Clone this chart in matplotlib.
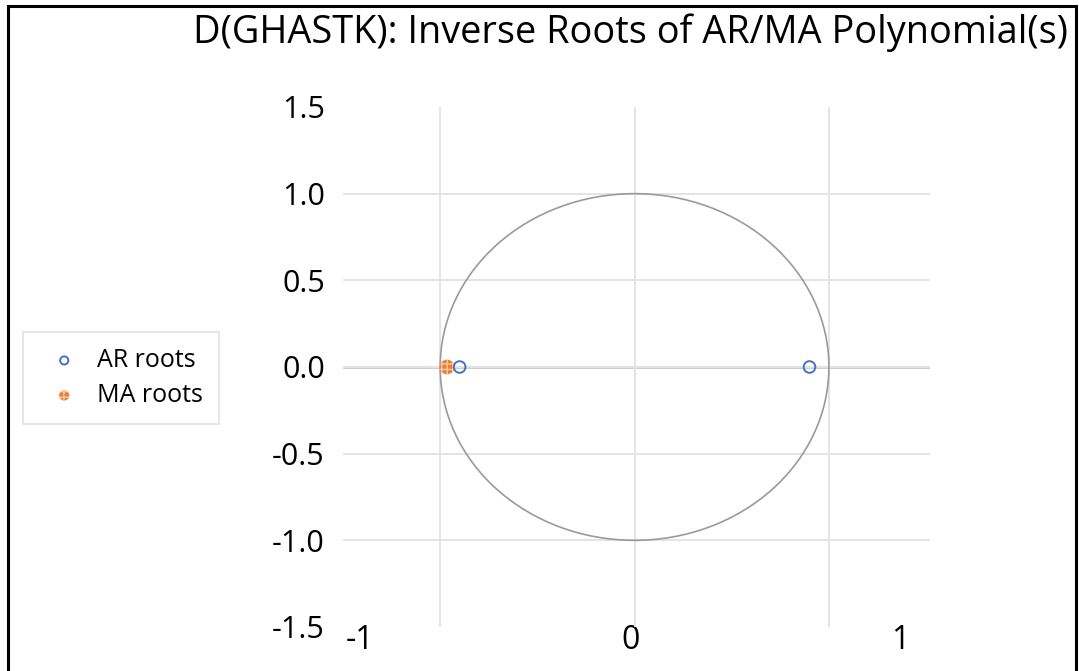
import numpy as np
import matplotlib.pyplot as plt
from matplotlib.patches import Circle, Rectangle

title = "D(GHASTK): Inverse Roots of AR/MA Polynomial(s)"
ar_re = [-0.90, 0.90]
ar_im = [0.0, 0.0]
ma_re = [-0.965]
ma_im = [0.0]
yticks = [-1.5, -1.0, -0.5, 0.0, 0.5, 1.0, 1.5]
xtick_labels = [-1, 0, 1]

W, H = 1079, 671
plt.rcParams['font.family'] = ['Open Sans', 'DejaVu Sans']

fig = plt.figure(figsize=(W / 100, H / 100), dpi=100)
ax = fig.add_axes([343 / W, (H - 627) / H, (930 - 343) / W, (627 - 107) / H])

ax.set_xlim(-1.5, 1.52)
ax.set_ylim(-1.5, 1.5)
for s in ax.spines.values():
    s.set_visible(False)

# grid
ax.set_xticks([-1, 0, 1])
ax.set_yticks(yticks)
ax.grid(True, color='#e4e4e4', lw=1.4, zorder=0)
ylines = ax.get_ygridlines()
ylines[0].set_visible(False)
ylines[-1].set_visible(False)
ax.axhline(0, color='#bfbfbf', lw=1.8, zorder=1)
ax.tick_params(length=0)
ax.tick_params(axis='x', labelbottom=False)
ax.set_yticklabels(['%.1f' % v for v in yticks], fontsize=22)
ax.tick_params(axis='y', pad=13)

# unit circle
ax.add_patch(Circle((0, 0), 1, fill=False, ec='#9a9a9a', lw=1.2, zorder=2))

# roots
ax.scatter(ar_re, ar_im, s=70, facecolor='none', edgecolor='#4472C4',
           lw=1.4, zorder=4, label='AR roots')
ax.scatter(ma_re, ma_im, s=110, facecolor='#ED7D31', edgecolor='#F8CBAD',
           lw=0, hatch='+++', zorder=3, label='MA roots')

# x tick labels (shown spread wider than the grid, as in the original)
sec = ax.secondary_xaxis('bottom', functions=(lambda x: (x + 0.023) / 1.388,
                                               lambda v: v * 1.388 - 0.023))
sec.set_xticks(xtick_labels)
sec.set_xticklabels([str(v) for v in xtick_labels], fontsize=23)
sec.tick_params(length=0, pad=-2)
sec.spines['bottom'].set_visible(False)

fig.text(1068 / W, (H - 33) / H, title, ha='right', va='center', fontsize=27.3)

leg = fig.legend(loc='center left', bbox_to_anchor=(23 / W, (H - 378) / H),
                 fontsize=18, frameon=True, fancybox=False, borderpad=0.65,
                 handletextpad=0.3, labelspacing=0.4, markerscale=0.7,
                 borderaxespad=0)
leg.get_frame().set_edgecolor('#d9d9d9')
leg.get_frame().set_linewidth(1.2)

fig.patches.append(Rectangle((8 / W, -0.02), (1076 - 8) / W, (H - 6) / H + 0.02,
                             transform=fig.transFigure, fill=False, ec='black',
                             lw=2.2, zorder=10))

fig.savefig('out.png', dpi=100)
